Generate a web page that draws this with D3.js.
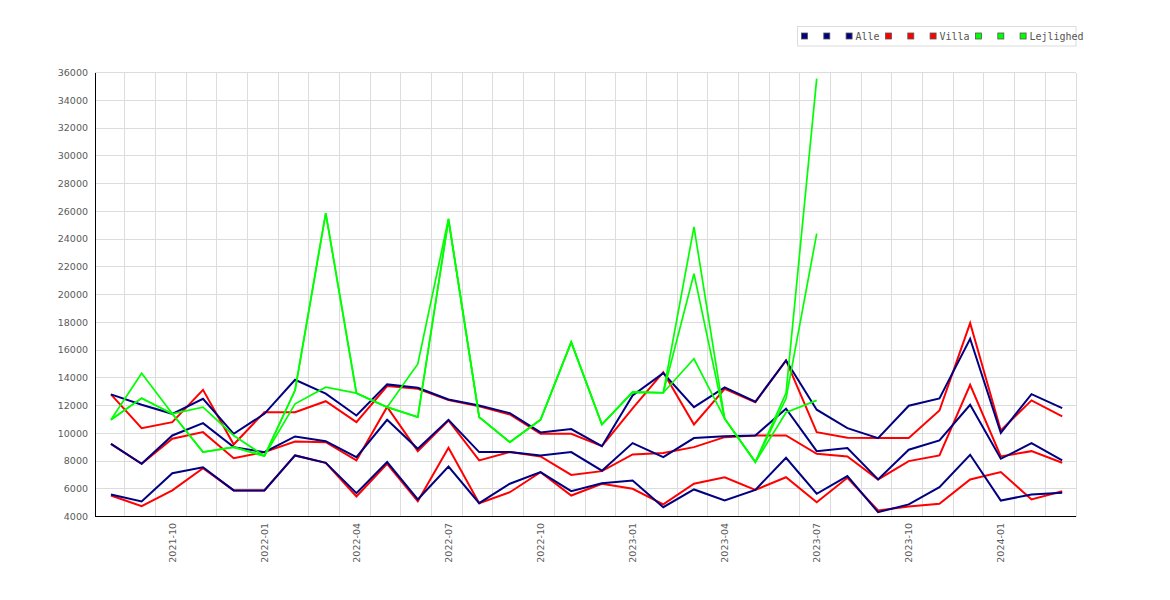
<!DOCTYPE html>
<html>
<head>
<meta charset="utf-8">
<style>
  body { margin: 0; background: #fff; }
</style>
<script src="https://cdn.jsdelivr.net/npm/d3@7"></script>
</head>
<body>
<svg id="board" width="1170" height="600"></svg>
<script>
var months = [
  '2021-08', '2021-09', '2021-10', '2021-11', '2021-12', '2022-01', '2022-02', '2022-03',
  '2022-04', '2022-05', '2022-06', '2022-07', '2022-08', '2022-09', '2022-10', '2022-11',
  '2022-12', '2023-01', '2023-02', '2023-03', '2023-04', '2023-05', '2023-06', '2023-07',
  '2023-08', '2023-09', '2023-10', '2023-11', '2023-12', '2024-01', '2024-02', '2024-03'
];
var yTicks = d3.range(4000, 36001, 2000);

var alleHigh = [12800, 12050, 11400, 12480, 9960, 11400, 13850, 12850, 11280, 13520, 13280, 12430,
  12000, 11450, 10060, 10300, 9070, 12720, 14330, 11880, 13300, 12270, 15250, 11700,
  10370, 9650, 11980, 12510, 16810, 10030, 12820, 11810];
var alleMid = [9240, 7800, 9840, 10730, 9000, 8640, 9770, 9430, 8280, 10970, 8880, 10970,
  8640, 8640, 8400, 8640, 7300, 9290, 8280, 9650, 9790, 9840, 11770, 8710,
  8930, 6670, 8810, 9480, 12050, 8160, 9290, 8040];
var alleLow = [5590, 5080, 7120, 7550, 5880, 5880, 8400, 7870, 5680, 7920, 5230, 7600,
  4960, 6360, 7200, 5830, 6400, 6600, 4670, 5950, 5150, 5920, 8230, 5640,
  6910, 4310, 4870, 6110, 8450, 5150, 5590, 5710];

var villaHigh = [12800, 10370, 10800, 13130, 9190, 11520, 11520, 12310, 10800, 13400, 13200, 12400,
  11950, 11350, 9960, 9960, 9070, 11800, 14400, 10630, 13200, 12240, 15250, 10080,
  9670, 9650, 9650, 11640, 17940, 10200, 12370, 11210];
var villaMid = [9240, 7800, 9600, 10080, 8200, 8640, 9400, 9360, 8040, 11900, 8710, 10920,
  8040, 8640, 8330, 7000, 7270, 8470, 8570, 9000, 9720, 9840, 9840, 8520,
  8330, 6670, 7990, 8400, 13490, 8330, 8710, 7870];
var villaLow = [5510, 4740, 5880, 7480, 5880, 5880, 8400, 7870, 5440, 7800, 5100, 8950,
  4960, 5750, 7200, 5510, 6360, 6000, 4870, 6360, 6830, 5920, 6830, 5030,
  6790, 4430, 4720, 4920, 6670, 7200, 5230, 5820];

var lejlighedHigh = [10970, 14330, 11400, 11880, 9840, 8360, 13100, 25870, 12890, 11880, 15000, 25460,
  11160, 9360, 10970, 16570, 10630, 12960, 12920, 24870, 11050, 7920, 12900, 35560];
var lejlighedMid = [10970, 12530, 11400, 8640, 9000, 8360, 13100, 25870, 12890, 11880, 11160, 25400,
  11160, 9360, 10970, 16570, 10630, 12960, 12920, 21500, 11050, 7920, 12500, 24390];
var lejlighedLow = [10970, 12530, 11400, 8640, 9000, 8360, 12120, 13320, 12890, 11880, 11160, 25400,
  11160, 9360, 10970, 16570, 10630, 12960, 12920, 15370, 11050, 7920, 11500, 12370];

var groups = [
  { name: 'Alle', color: '#000080', width: 2, series: [alleLow, alleMid, alleHigh] },
  { name: 'Villa', color: '#ff0000', width: 2, series: [villaLow, villaMid, villaHigh] },
  { name: 'Lejlighed', color: '#00ff00', width: 1.7, series: [lejlighedLow, lejlighedMid, lejlighedHigh] }
];
// villa underneath, then alle, green on top
var drawOrder = ['Villa', 'Alle', 'Lejlighed'];

var board = d3.select('#board');
var plotLeft = 95, plotRight = 1076, plotTop = 72.5, plotBottom = 516.5;
var labelFont = "'DejaVu Sans', sans-serif";

var x = d3.scaleLinear().domain([-0.52, months.length - 0.55]).range([plotLeft, plotRight]);
var y = d3.scaleLinear().domain([4000, 36000]).range([plotBottom, plotTop]);

drawGrid();
drawSeries();
drawAxes();
drawLegend();

function drawGrid() {
  var grid = board.append('g').attr('shape-rendering', 'crispEdges');
  grid.selectAll('.hgrid')
    .data(yTicks.slice(1))
    .enter()
    .append('line')
    .attr('x1', plotLeft)
    .attr('x2', plotRight)
    .attr('y1', y)
    .attr('y2', y)
    .attr('stroke', '#dcdcdc');
  grid.selectAll('.vgrid')
    .data(months.map((m, i) => i + 0.45))
    .enter()
    .append('line')
    .attr('x1', x)
    .attr('x2', x)
    .attr('y1', plotTop)
    .attr('y2', plotBottom)
    .attr('stroke', '#dcdcdc');
}

function drawSeries() {
  var line = d3.line()
    .x((d, i) => x(i))
    .y(d => y(d));
  var root = board.append('g');
  drawOrder.forEach(name => {
    var g = groups.find(gr => gr.name === name);
    root.append('g')
      .selectAll('path')
      .data(g.series)
      .enter()
      .append('path')
      .attr('d', line)
      .attr('fill', 'none')
      .attr('stroke', g.color)
      .attr('stroke-width', g.width);
  });
}

function drawAxes() {
  var axes = board.append('g').attr('shape-rendering', 'crispEdges');
  axes.append('line')
    .attr('x1', plotLeft).attr('x2', plotLeft)
    .attr('y1', plotTop).attr('y2', plotBottom)
    .attr('stroke', '#000');
  axes.append('line')
    .attr('x1', plotLeft).attr('x2', plotRight)
    .attr('y1', plotBottom).attr('y2', plotBottom)
    .attr('stroke', '#000');

  board.append('g')
    .selectAll('text')
    .data(yTicks)
    .enter()
    .append('text')
    .attr('x', 88)
    .attr('y', y)
    .attr('dy', '0.36em')
    .attr('text-anchor', 'end')
    .style('font-family', labelFont)
    .style('font-size', '9.5px')
    .attr('fill', '#5a5a5a')
    .text(d => d);

  var labelIdx = d3.range(2, months.length, 3);
  board.append('g')
    .selectAll('text')
    .data(labelIdx)
    .enter()
    .append('text')
    .attr('transform', i => `translate(${x(i)}, 523) rotate(-90)`)
    .attr('dy', '0.36em')
    .attr('text-anchor', 'end')
    .style('font-family', labelFont)
    .style('font-size', '9.5px')
    .attr('fill', '#5a5a5a')
    .text(i => months[i]);
}

function drawLegend() {
  var legend = board.append('g');
  legend.append('rect')
    .attr('x', 797.5)
    .attr('y', 26.5)
    .attr('width', 278.5)
    .attr('height', 19.5)
    .attr('fill', '#fff')
    .attr('stroke', '#dcdcdc');

  var items = [];
  groups.forEach(g => {
    g.series.forEach((s, k) => {
      items.push({ color: g.color, label: k === g.series.length - 1 ? g.name : '' });
    });
  });

  var cx = 801.5;
  items.forEach(item => {
    legend.append('rect')
      .attr('x', cx)
      .attr('y', 33)
      .attr('width', 6)
      .attr('height', 6)
      .attr('fill', item.color)
      .attr('stroke', '#555')
      .attr('stroke-width', 0.8);
    var t = legend.append('text')
      .attr('x', cx + 9.3)
      .attr('y', 39.8)
      .style('font-family', "'DejaVu Sans Mono', monospace")
      .style('font-size', '10px')
      .attr('fill', '#555')
      .text(item.label);
    var w = item.label ? t.node().getComputedTextLength() : 0;
    cx = cx + 9.3 + Math.max(w + 6, 13);
  });
}
</script>
</body>
</html>
